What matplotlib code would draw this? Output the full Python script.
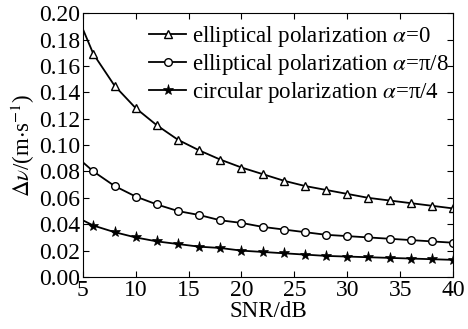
import matplotlib
matplotlib.use("Agg")
import matplotlib.pyplot as plt

plt.rcParams['font.family'] = ['Liberation Serif', 'DejaVu Serif']
plt.rcParams['mathtext.fontset'] = 'stix'

snr = [5, 6, 8, 10, 12, 14, 16, 18, 20, 22, 24, 26, 28, 30, 32, 34, 36, 38, 40]
ell0 = [0.188, 0.169, 0.145, 0.128, 0.115, 0.104, 0.096, 0.089, 0.083, 0.078,
        0.073, 0.069, 0.066, 0.063, 0.060, 0.058, 0.056, 0.054, 0.052]
ell8 = [0.087, 0.080, 0.069, 0.061, 0.055, 0.050, 0.047, 0.043, 0.041, 0.038,
        0.036, 0.034, 0.032, 0.031, 0.030, 0.029, 0.028, 0.027, 0.026]
circ = [0.043, 0.039, 0.034, 0.030, 0.027, 0.025, 0.023, 0.022, 0.020, 0.019,
        0.018, 0.017, 0.016, 0.0155, 0.015, 0.0145, 0.014, 0.0135, 0.013]
labels = [r'elliptical polarization $\alpha$=0',
          r'elliptical polarization $\alpha$=π/8',
          r'circular polarization $\alpha$=π/4']
xticks = [5, 10, 15, 20, 25, 30, 35, 40]
yticks = [0.00, 0.02, 0.04, 0.06, 0.08, 0.10, 0.12, 0.14, 0.16, 0.18, 0.20]

fig = plt.figure(figsize=(4.68, 3.29), dpi=100)
ax = fig.add_axes([0.177, 0.158, 0.791, 0.802])

me = list(range(1, len(snr)))
ax.plot(snr, ell0, color='black', lw=1.3, marker='^', ms=6, mfc='white', mec='black',
        mew=1.0, markevery=me, label=labels[0])
ax.plot(snr, ell8, color='black', lw=1.3, marker='o', ms=5.5, mfc='white', mec='black',
        mew=1.0, markevery=me, label=labels[1])
ax.plot(snr, circ, color='black', lw=1.3, marker='*', ms=8, mfc='black', mec='black',
        mew=0.5, markevery=me, label=labels[2])

ax.set_xlim(5, 40)
ax.set_ylim(0, 0.20)
ax.set_xticks(xticks)
ax.set_yticks(yticks)
ax.set_yticklabels([f'{v:.2f}' for v in yticks])
ax.tick_params(direction='in', top=True, right=True, labelsize=17, length=4, width=0.8, pad=2)
for s in ax.spines.values():
    s.set_linewidth(0.8)

ax.set_xlabel('SNR/dB', fontsize=16.5, labelpad=0)
ax.set_ylabel(r'$\Delta\nu$/(m$\cdot$s$^{-1}$)', fontsize=16.5, labelpad=1)

ax.legend(loc='upper right', frameon=False, fontsize=16.5, handlelength=1.6,
          handletextpad=0.25, labelspacing=0.12, borderaxespad=0.0,
          borderpad=0.2, bbox_to_anchor=(1.0, 0.975))

fig.savefig('out.png', dpi=100)
